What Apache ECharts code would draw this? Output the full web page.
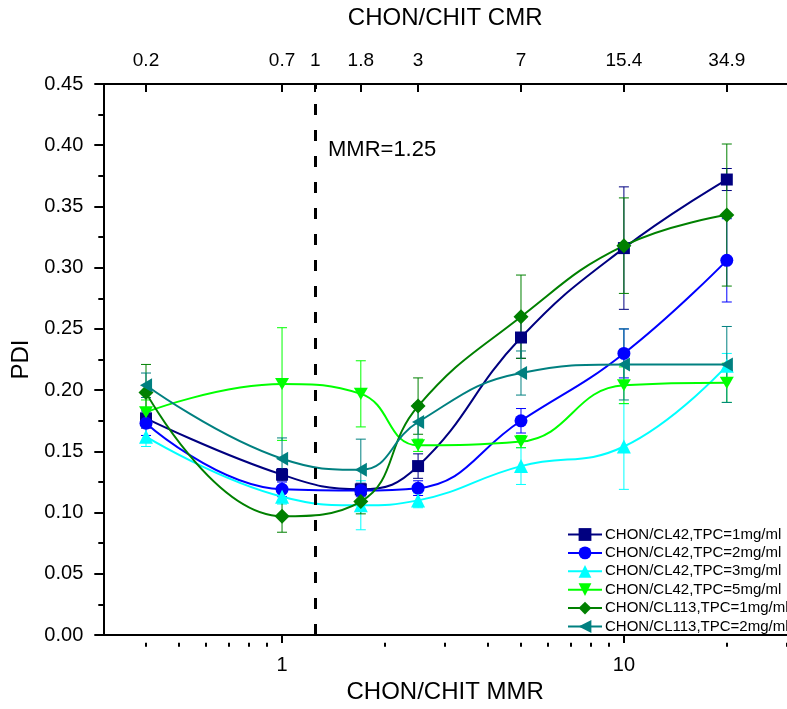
<!DOCTYPE html>
<html>
<head>
<meta charset="utf-8">
<script src="https://cdn.jsdelivr.net/npm/echarts@6.0.0/dist/echarts.min.js"></script>
<style>
html, body { margin: 0; padding: 0; background: #fff; }
#chart { width: 787px; height: 709px; }
</style>
</head>
<body>
<div id="chart"></div>
<script>
// x positions (MMR) of the measured points
const mmr = [0.4, 1, 1.7, 2.5, 5, 10, 20];

// top axis: CMR labels placed at MMR positions
const cmrPos = [0.4, 1, 1.25, 1.7, 2.5, 5, 10, 20];
const cmrLabels = ['0.2', '0.7', '1', '1.8', '3', '7', '15.4', '34.9'];

const bottomMajor = [1, 10];
const bottomMinor = [0.4, 0.5, 0.6, 0.7, 0.8, 0.9, 2, 3, 4, 5, 6, 7, 8, 9, 20, 30];

const names = [
    'CHON/CL42,TPC=1mg/ml',
    'CHON/CL42,TPC=2mg/ml',
    'CHON/CL42,TPC=3mg/ml',
    'CHON/CL42,TPC=5mg/ml',
    'CHON/CL113,TPC=1mg/ml',
    'CHON/CL113,TPC=2mg/ml'
];

const pdi1 = [0.177, 0.131, 0.119, 0.138, 0.243, 0.316, 0.372];
const pdi2 = [0.173, 0.119, 0.118, 0.120, 0.175, 0.230, 0.306];
const pdi3 = [0.162, 0.113, 0.106, 0.110, 0.138, 0.154, 0.220];
const pdi4 = [0.182, 0.205, 0.197, 0.155, 0.158, 0.204, 0.206];
const pdi5 = [0.198, 0.097, 0.109, 0.187, 0.260, 0.318, 0.343];
const pdi6 = [0.204, 0.144, 0.135, 0.174, 0.214, 0.221, 0.221];

const err1 = [0.008, 0.005, 0.005, 0.010, 0.017, 0.050, 0.009];
const err2 = [0.010, 0.006, 0.005, 0.006, 0.010, 0.020, 0.034];
const err3 = [0.008, 0.006, 0.020, 0.006, 0.015, 0.035, 0.010];
const err4 = [0.010, 0.046, 0.027, 0.005, 0.005, 0.015, 0.016];
const err5 = [0.023, 0.013, 0.010, 0.023, 0.034, 0.039, 0.058];
const err6 = [0.010, 0.017, 0.025, 0.015, 0.018, 0.029, 0.031];

const dashedAt = 1.25;

const font = 'Arial, "Liberation Sans", sans-serif';
const colors = ['#000080', '#0000ff', '#00ffff', '#00ff00', '#008000', '#008080'];
const symbols = [
    'rect',
    'circle',
    'triangle',
    'path://M0,0L2,0L1,1.732Z',
    'diamond',
    'path://M1.732,0L1.732,2L0,1Z'
];
const symbolSizes = [12, 13, 14, 14, 15, 14];

const allPdi = [pdi1, pdi2, pdi3, pdi4, pdi5, pdi6];
const allErr = [err1, err2, err3, err4, err5, err6];

const chart = echarts.init(document.getElementById('chart'));

function errorBars(idx) {
    const vals = allPdi[idx], errs = allErr[idx], color = colors[idx];
    return {
        type: 'custom',
        name: names[idx] + ' err',
        xAxisIndex: 0,
        yAxisIndex: 0,
        silent: true,
        z: 2,
        data: mmr.map((x, i) => [x, vals[i] - errs[i], vals[i] + errs[i]]),
        encode: { x: 0, y: [1, 2] },
        renderItem(params, api) {
            const lo = api.coord([api.value(0), api.value(1)]);
            const hi = api.coord([api.value(0), api.value(2)]);
            const w = 5;
            const style = { stroke: color, lineWidth: 1 };
            return {
                type: 'group',
                children: [
                    { type: 'line', shape: { x1: lo[0], y1: lo[1], x2: hi[0], y2: hi[1] }, style: style },
                    { type: 'line', shape: { x1: lo[0] - w, y1: lo[1], x2: lo[0] + w, y2: lo[1] }, style: style },
                    { type: 'line', shape: { x1: hi[0] - w, y1: hi[1], x2: hi[0] + w, y2: hi[1] }, style: style }
                ]
            };
        }
    };
}

const series = [];
names.forEach((n, i) => {
    series.push(errorBars(i));
    series.push({
        type: 'line',
        name: n,
        xAxisIndex: 0,
        yAxisIndex: 0,
        data: mmr.map((x, j) => [x, allPdi[i][j]]),
        smooth: 0.45,
        symbol: symbols[i],
        symbolSize: symbolSizes[i],
        symbolKeepAspect: true,
        z: 3,
        lineStyle: { color: colors[i], width: 2 },
        itemStyle: { color: colors[i] }
    });
});
// dashed guide line at MMR = 1.25
series[1].markLine = {
    silent: true,
    symbol: 'none',
    label: { show: false },
    lineStyle: { color: '#000', width: 3, type: [11, 15] },
    data: [{ xAxis: dashedAt }]
};

const grid = { left: 103.3, right: -6, top: 84, bottom: 66.3 };

const option = {
    backgroundColor: '#fff',
    animation: false,
    textStyle: { fontFamily: font },
    grid: [Object.assign({}, grid), Object.assign({}, grid)],
    legend: {
        data: names,
        orient: 'vertical',
        left: 562,
        top: 522,
        itemWidth: 34,
        itemHeight: 16,
        itemGap: 3.4,
        textStyle: { fontSize: 15, color: '#000', fontFamily: font, padding: [0, 0, 0, -2] }
    },
    graphic: [{
        type: 'text',
        left: 328,
        top: 139,
        style: { text: 'MMR=1.25', fontSize: 22, fontFamily: font, fill: '#000' }
    }],
    xAxis: [
        {
            type: 'log',
            gridIndex: 0,
            position: 'bottom',
            min: 0.3,
            max: 30,
            name: 'CHON/CHIT MMR',
            nameLocation: 'middle',
            nameGap: 34,
            nameTextStyle: { fontSize: 24, color: '#000' },
            axisLine: { lineStyle: { color: '#000', width: 2 } },
            axisTick: { customValues: bottomMajor, length: 8, lineStyle: { width: 2 } },
            axisLabel: { customValues: bottomMajor, margin: 20, fontSize: 20, color: '#000',
                formatter: v => String(Math.round(v)) },
            splitLine: { show: false },
            minorTick: { show: false }
        },
        {
            type: 'log',
            gridIndex: 0,
            position: 'top',
            min: 0.3,
            max: 30,
            name: 'CHON/CHIT CMR',
            nameLocation: 'middle',
            nameGap: 54,
            nameTextStyle: { fontSize: 24, color: '#000' },
            axisLine: { lineStyle: { color: '#000', width: 2 } },
            axisTick: { customValues: cmrPos, inside: true, length: 8, lineStyle: { width: 2 } },
            axisLabel: {
                customValues: cmrPos, margin: 14, fontSize: 19, color: '#000',
                formatter: v => {
                    const i = cmrPos.findIndex(p => Math.abs(p - v) / p < 1e-3);
                    return i >= 0 ? cmrLabels[i] : '';
                }
            },
            splitLine: { show: false }
        },
        {
            type: 'log',
            gridIndex: 1,
            position: 'bottom',
            min: 0.3,
            max: 30,
            axisLine: { show: false },
            axisTick: { customValues: bottomMinor, length: 4, lineStyle: { color: '#000', width: 2 } },
            axisLabel: { show: false },
            splitLine: { show: false }
        }
    ],
    yAxis: [
        {
            type: 'value',
            gridIndex: 0,
            min: 0,
            max: 0.45,
            interval: 0.05,
            name: 'PDI',
            nameLocation: 'middle',
            nameGap: 64,
            nameTextStyle: { fontSize: 24, color: '#000' },
            axisLine: { show: true, lineStyle: { color: '#000', width: 2 } },
            axisTick: { show: true, length: 9, lineStyle: { width: 2 } },
            minorTick: { show: true, splitNumber: 2, length: 5, lineStyle: { color: '#000', width: 2 } },
            axisLabel: { fontSize: 20, color: '#000', margin: 20, formatter: v => v.toFixed(2) },
            splitLine: { show: false }
        },
        {
            type: 'value',
            gridIndex: 1,
            min: 0,
            max: 0.45,
            show: false
        }
    ],
    series: series
};

chart.setOption(option);
</script>
</body>
</html>
